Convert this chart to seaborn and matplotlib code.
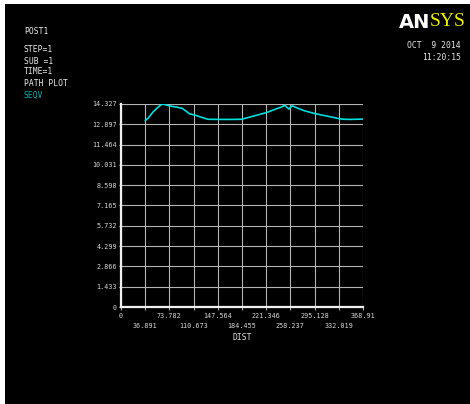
import matplotlib
matplotlib.use("Agg")
import matplotlib.pyplot as plt
from matplotlib.patches import Rectangle
import seaborn as sns
import pandas as pd

# Path results: von Mises stress (SEQV) along the path distance
dist = [36.891, 42.0, 48.6, 56.3, 62.9, 66.0, 74.1, 84.3, 93.5, 99.0, 104.6,
        112.3, 122.0, 132.6, 150.0, 170.0, 184.0, 196.3, 208.0, 221.8, 237.1,
        244.0, 249.8, 255.9, 260.9, 270.0, 280.3, 295.6, 313.4, 325.0, 332.7,
        339.0, 350.0, 368.91]
seqv = [13.16, 13.35, 13.75, 14.09, 14.327, 14.30, 14.19, 14.11, 14.02, 13.83,
        13.63, 13.55, 13.40, 13.25, 13.24, 13.24, 13.25, 13.40, 13.55, 13.72,
        13.99, 14.10, 14.23, 13.97, 14.20, 14.02, 13.84, 13.65, 13.48, 13.37,
        13.29, 13.25, 13.24, 13.26]

y_ticks = [0, 1.433, 2.866, 4.299, 5.732, 7.165, 8.598, 10.031, 11.464, 12.897, 14.327]
y_labels = ["0", "1.433", "2.866", "4.299", "5.732", "7.165", "8.598",
            "10.031", "11.464", "12.897", "14.327"]
x_ticks = [0, 36.891, 73.782, 110.673, 147.564, 184.455, 221.346, 258.237,
           295.128, 332.019, 368.91]
x_labels = ["0", "36.891", "73.782", "110.673", "147.564", "184.455",
            "221.346", "258.237", "295.128", "332.019", "368.91"]
header = ["STEP=1", "SUB =1", "TIME=1", "PATH PLOT"]

sns.set_theme(style="dark")
plt.rcParams["font.family"] = ["DejaVu Sans Mono"]

W, H = 470, 404
fig = plt.figure(figsize=(W / 100, H / 100), dpi=100, facecolor="white")
fig.patches.append(Rectangle((5 / W, 0), 1, 1 - 4 / H, transform=fig.transFigure,
                             facecolor="black", edgecolor="none", zorder=-10))

ax = fig.add_axes([121 / W, 1 - 307 / H, 242 / W, 203 / H])
ax.set_facecolor("black")

df = pd.DataFrame({"DIST": dist, "SEQV": seqv})
sns.lineplot(data=df, x="DIST", y="SEQV", ax=ax, color="#00dede",
             linewidth=1.2, zorder=5)

ax.set_xlim(0, 368.91)
ax.set_ylim(0, 14.327)

tick_font = dict(fontsize=4.9, color="#d8d8d8")
ax.set_yticks(y_ticks)
ax.set_yticklabels(y_labels, **tick_font)
ax.set_xticks(x_ticks[0::2])
ax.set_xticklabels(x_labels[0::2], **tick_font)
ax.set_xticks(x_ticks[1::2], minor=True)
ax.set_xticklabels(x_labels[1::2], minor=True, **tick_font)

ax.tick_params(axis="y", length=1.5, width=0.8, color="#d8d8d8", pad=1.5, left=True)
ax.tick_params(axis="x", which="major", length=2.5, width=0.8, color="#b0b0b0",
               pad=2.0, bottom=True)
ax.tick_params(axis="x", which="minor", length=2.5, width=0.8, color="#b0b0b0",
               pad=9.0, bottom=True)

ax.grid(True, which="both", color="#b4b4b4", linewidth=0.8)
for side in ("top", "right"):
    ax.spines[side].set_visible(False)
for side in ("left", "bottom"):
    ax.spines[side].set_visible(True)
    ax.spines[side].set_color("#f0f0f0")
    ax.spines[side].set_linewidth(1.6)
    ax.spines[side].set_zorder(6)
ax.set_xlabel("")
ax.set_ylabel("")

fig.text(242 / W, 1 - 338 / H, "DIST", fontsize=5.8, color="#e0e0e0",
         ha="center", va="center")

# Header block
fig.text(24 / W, 1 - 32 / H, "POST1", fontsize=5.8, color="#e8e8e8", va="center")
for i, line in enumerate(header):
    fig.text(24 / W, 1 - (50 + 11 * i) / H, line, fontsize=5.8, color="#e8e8e8",
             va="center")
fig.text(24 / W, 1 - 95 / H, "SEQV", fontsize=5.8, color="#00b0b0", va="center")

# Logo and time stamp
fig.text(430 / W, 1 - 22 / H, "AN", fontsize=14, fontweight="bold",
         color="white", ha="right", va="center", family=["DejaVu Sans"])
fig.text(430 / W, 1 - 22 / H, "SYS", fontsize=14, color="#f0f000",
         ha="left", va="center", family=["Liberation Serif"])
fig.text(461 / W, 1 - 45 / H, "OCT  9 2014", fontsize=5.8, color="#e8e8e8",
         ha="right", va="center")
fig.text(461 / W, 1 - 57 / H, "11:20:15", fontsize=5.8, color="#e8e8e8",
         ha="right", va="center")

fig.savefig("out.png", dpi=100, facecolor=fig.get_facecolor())
